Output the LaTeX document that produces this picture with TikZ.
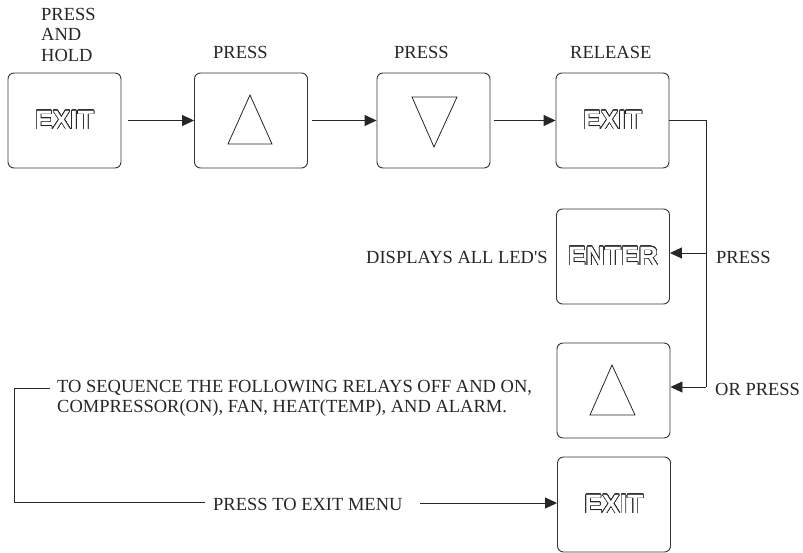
\documentclass[tikz,border=0pt]{standalone}
\usepackage{fontspec}
\setmainfont{Liberation Serif}
\newfontfamily\keyfont{Liberation Sans}
\usepackage{contour}
\contourlength{0.6pt}
\contournumber{32}
\usetikzlibrary{arrows.meta}
\tikzset{
  keybox/.style={draw=black!80, line width=0.9pt, rounded corners=6pt, minimum width=113pt, minimum height=95pt, inner sep=0pt},
  keytext/.style={font=\keyfont\bfseries\fontsize{26.5}{26.5}\selectfont},
  lbl/.style={font=\fontsize{18.5}{20.5}\selectfont, text=black!85, inner sep=0pt, anchor=base west},
  conn/.style={line width=0.9pt, draw=black!85},
  arr/.style={conn, -{Triangle[length=12pt,width=11pt]}},
  tri/.style={line width=0.8pt, draw=black!85, line join=miter}
}
\newcommand{\outl}[1]{\contour{black!85}{\textcolor{white}{#1}}}
\begin{document}
\begin{tikzpicture}[x=1pt,y=-1pt]
\useasboundingbox (0,0) rectangle (803,552);
% boxes
\node[keybox, keytext] (b1) at (64.5,120.5) {\outl{EXIT}};
\node[keybox] (b2) at (251,120.5) {};
\node[keybox] (b3) at (433.5,120.5) {};
\node[keybox, keytext] (b4) at (612.5,120.5) {\outl{EXIT}};
\node[keybox, keytext] (b5) at (613,256.5) {\outl{ENTER}};
\node[keybox] (b6) at (613.5,390.5) {};
\node[keybox, keytext] (b7) at (614,504.5) {\outl{EXIT}};
% triangles
\draw[tri] ([shift={(-1,-25.5)}]b2.center) -- ([shift={(21,23.5)}]b2.center) -- ([shift={(-23,23.5)}]b2.center) -- cycle;
\draw[tri] ([shift={(0.5,26.5)}]b3.center) -- ([shift={(23.5,-23.5)}]b3.center) -- ([shift={(-21.5,-23.5)}]b3.center) -- cycle;
\draw[tri] ([shift={(-1.5,-25.5)}]b6.center) -- ([shift={(21.5,24.5)}]b6.center) -- ([shift={(-23.5,24.5)}]b6.center) -- cycle;
% labels
\node[lbl] (t1) at (41,20) {PRESS};
\node[lbl] (t2) at (41,40.5) {AND};
\node[lbl] (t3) at (41,61) {HOLD};
\node[lbl] (t4) at (213,58) {PRESS};
\node[lbl] (t5) at (394,58) {PRESS};
\node[lbl] (t6) at (570,58) {RELEASE};
\node[lbl] (t7) at (366,263) {DISPLAYS ALL LED\textquotesingle S};
\node[lbl] (t8) at (716,263) {PRESS};
\node[lbl] (t9) at (715,395) {OR PRESS};
\node[lbl] (t10) at (57,392) {TO SEQUENCE THE FOLLOWING RELAYS OFF AND ON,};
\node[lbl] (t11) at (57,412) {COMPRESSOR(ON), FAN, HEAT(TEMP), AND ALARM.};
\node[lbl] (t12) at (213,510) {PRESS TO EXIT MENU};
% coordinates
\coordinate (r0) at (706,120.5);
\coordinate (r1) at (706,253);
\coordinate (r2) at (706,387);
\coordinate (l0) at (50,388);
\coordinate (l1) at (14,388);
\coordinate (l2) at (14,502);
\coordinate (l3) at (205,502);
\coordinate (m0) at (420,503);
% connectors
\draw[arr] (b1.east) ++(7,0) -- (b2.west);
\draw[arr] (b2.east) ++(4,0) -- (b3.west);
\draw[arr] (b3.east) ++(4,0) -- (b4.west);
\draw[conn] (b4.east) -- (r0) -- (r2);
\draw[arr] (r1) -- (b5.east |- r1);
\draw[arr] (r2) -- (b6.east |- r2);
\draw[conn] (l0) -- (l1) -- (l2) -- (l3);
\draw[arr] (m0) -- (b7.west |- m0);
\end{tikzpicture}
\end{document}
